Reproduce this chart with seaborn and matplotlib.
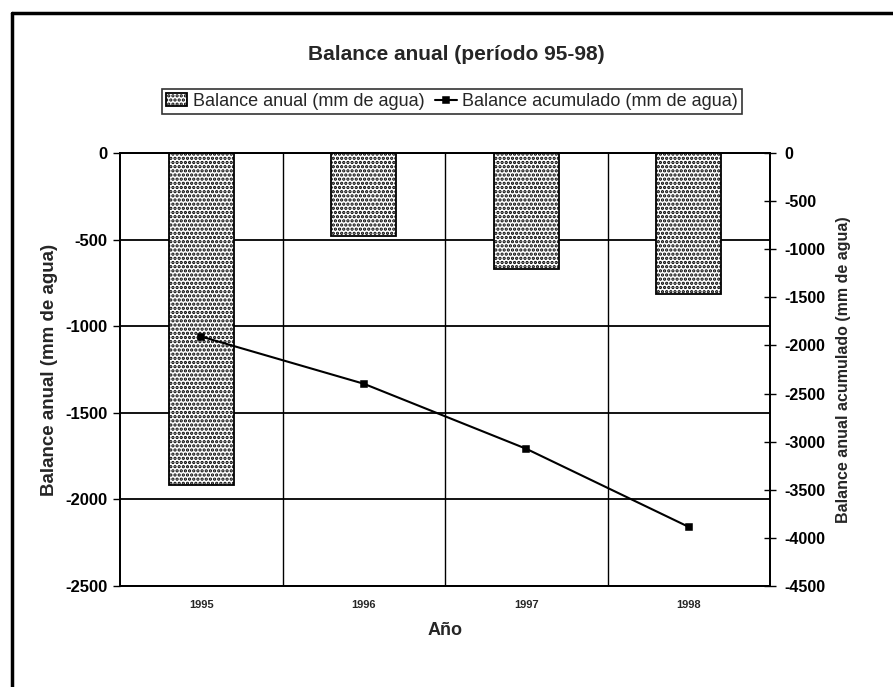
import matplotlib
matplotlib.use("Agg")
import matplotlib.pyplot as plt
from matplotlib.lines import Line2D
import seaborn as sns
import pandas as pd

# ---- data ----
years = ["1995", "1996", "1997", "1998"]
balance_anual = [-1915, -482, -668, -812]
balance_acumulado = [-1908, -2398, -3074, -3886]
left_ticks = [0, -500, -1000, -1500, -2000, -2500]
right_ticks = [0, -500, -1000, -1500, -2000, -2500, -3000, -3500, -4000, -4500]

sns.set_theme(style="white")
plt.rcParams["font.family"] = ["Liberation Sans", "DejaVu Sans"]
plt.rcParams["hatch.linewidth"] = 1.6
plt.rcParams["hatch.color"] = "#333333"

df = pd.DataFrame({"Año": years, "anual": balance_anual, "acum": balance_acumulado})

fig = plt.figure(figsize=(8.93, 6.87), dpi=100)
ax = fig.add_axes([120 / 893, 1 - 586 / 687, 650 / 893, 433 / 687])

sns.barplot(data=df, x="Año", y="anual", order=years, ax=ax, width=0.4,
            color="white", edgecolor="black", linewidth=1.3, hatch="....",
            saturation=1)
ax.set_ylim(-2500, 0)
ax.set_xlim(-0.5, 3.5)
ax.set_yticks(left_ticks)
ax.set_yticklabels([str(t) for t in left_ticks], fontsize=12, fontweight="bold")
ax.set_xticks(range(len(years)))
ax.set_xticklabels(years, fontsize=8, fontweight="bold")
ax.tick_params(axis="y", direction="out", length=5, width=1, pad=4, colors="black", left=True)
ax.tick_params(axis="x", length=0, pad=10)
ax.set_ylabel("Balance anual (mm de agua)", fontsize=13.5, fontweight="bold", labelpad=5)
ax.set_xlabel("Año", fontsize=13, fontweight="bold", labelpad=9)

# grid lines: horizontal at y ticks, vertical at category boundaries
for t in left_ticks:
    ax.axhline(t, color="black", lw=1.3, zorder=0.5)
for b in [0.5, 1.5, 2.5]:
    ax.axvline(b, color="black", lw=1.0, zorder=0.5)
for s in ax.spines.values():
    s.set_color("black")
    s.set_linewidth(1.3)

ax2 = ax.twinx()
sns.pointplot(data=df, x="Año", y="acum", order=years, ax=ax2, color="black",
              markers="s", linestyles="-", markersize=5, linewidth=1.5)
ax2.set_xlim(-0.5, 3.5)
ax2.set_ylim(-4500, 0)
ax2.set_yticks(right_ticks)
ax2.set_yticklabels([str(t) for t in right_ticks], fontsize=11.5, fontweight="bold")
ax2.tick_params(axis="y", direction="inout", length=8, width=1, pad=6, colors="black", right=True)
ax2.set_ylabel("Balance anual acumulado (mm de agua)", fontsize=11.5, fontweight="bold", labelpad=8)
ax2.set_xlabel("")
for s in ax2.spines.values():
    s.set_color("black")
    s.set_linewidth(1.3)

# title
fig.text(456 / 893, 1 - 55 / 687, "Balance anual (período 95-98)", ha="center", va="center",
         fontsize=15, fontweight="bold")

# legend
bar_handle = ax.patches[0]
line_handle = ax2.lines[0]
leg = fig.legend([bar_handle, line_handle],
                 ["Balance anual (mm de agua)", "Balance acumulado (mm de agua)"],
                 loc="center", bbox_to_anchor=(452 / 893, 1 - 101.5 / 687), ncol=2,
                 fontsize=13, frameon=True, fancybox=False, edgecolor="black",
                 borderpad=0.2, handlelength=1.2, handletextpad=0.3, columnspacing=0.6,
                 borderaxespad=0)
leg.get_frame().set_linewidth(1.2)

# page frame (top and left border)
fig.add_artist(Line2D([12 / 893, 1.0], [1 - 13 / 687, 1 - 13 / 687], color="black", lw=2.5,
                      transform=fig.transFigure))
fig.add_artist(Line2D([12 / 893, 12 / 893], [0, 1 - 13 / 687], color="black", lw=2.5,
                      transform=fig.transFigure))

fig.savefig("out.png", dpi=100, facecolor="white")
